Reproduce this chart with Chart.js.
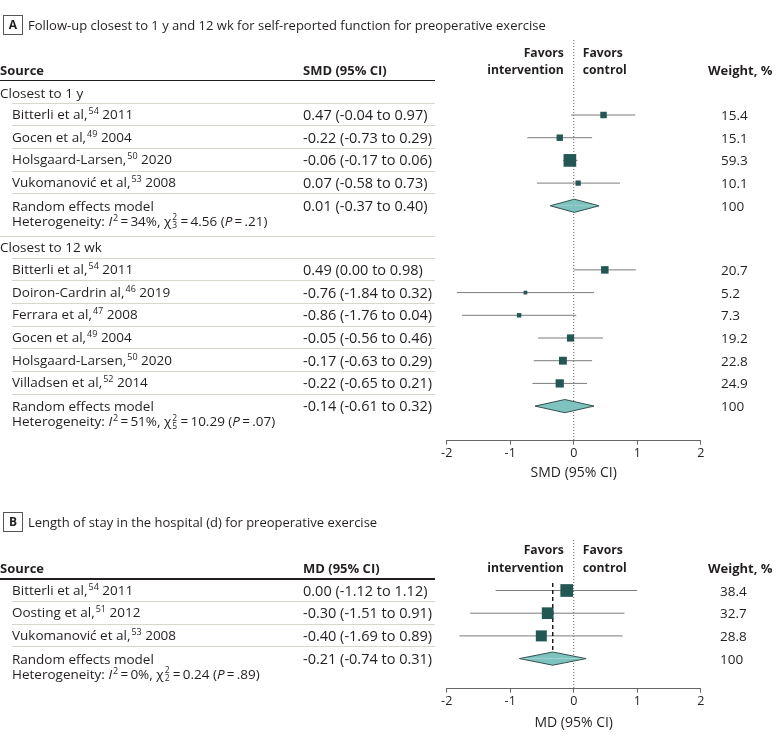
<!DOCTYPE html>
<html><head><meta charset="utf-8">
<script src="https://cdn.jsdelivr.net/npm/chart.js@4.4.1/dist/chart.umd.min.js"></script>
<style>
html,body{margin:0;padding:0;background:#fff;}
#wrap{position:relative;width:780px;height:740px;overflow:hidden;font-family:"Open Sans",sans-serif;color:#231f20;font-size:13.5px;}
canvas{position:absolute;left:0;}
.t{position:absolute;white-space:nowrap;line-height:16px;transform:translateY(-50%);}
.b{font-weight:700;font-size:13px;}
.f{font-weight:700;font-size:12.2px;}
.v{font-size:14.5px;}
.ttl{font-size:13px;}
.sup{font-size:9px;position:relative;top:-5px;margin-left:1px;}
.ss{display:inline-block;vertical-align:middle;font-size:8.5px;line-height:8px;margin:0 1px 0 1px;position:relative;top:-1px;}
.ss span{display:block;}
.hl{position:absolute;height:1px;}
.box{position:absolute;width:18px;height:18px;border:1px solid #555;font-weight:700;font-size:12px;line-height:18px;text-align:center;}
</style>
</head><body>
<div id="wrap">
<canvas id="cA"></canvas>
<canvas id="cB"></canvas>
</div>
<script>
// ================= DATA =================
// Panel A
const A_letter = "A";
const A_title = "Follow-up closest to 1 y and 12 wk for self-reported function for preoperative exercise";
const A_headers = ["Source", "SMD (95% CI)", "Weight, %"];
const A_axisTitle = "SMD (95% CI)";
const A_groups = ["Closest to 1 y", "Closest to 12 wk"];

const A1_sources = ["Bitterli et al,", "Gocen et al,", "Holsgaard-Larsen,", "Vukomanović et al,"];
const A1_refs = ["54", "49", "50", "53"];
const A1_years = ["2011", "2004", "2020", "2008"];
const A1_est = [0.47, -0.22, -0.06, 0.07];
const A1_lo = [-0.04, -0.73, -0.17, -0.58];
const A1_hi = [0.97, 0.29, 0.06, 0.73];
const A1_weight = [15.4, 15.1, 59.3, 10.1];
const A1_pooled = [0.01, -0.37, 0.40];
const A1_het = ["34%", "3", "4.56", ".21"];

const A2_sources = ["Bitterli et al,", "Doiron-Cardrin al,", "Ferrara et al,", "Gocen et al,", "Holsgaard-Larsen,", "Villadsen et al,"];
const A2_refs = ["54", "46", "47", "49", "50", "52"];
const A2_years = ["2011", "2019", "2008", "2004", "2020", "2014"];
const A2_est = [0.49, -0.76, -0.86, -0.05, -0.17, -0.22];
const A2_lo = [0.00, -1.84, -1.76, -0.56, -0.63, -0.65];
const A2_hi = [0.98, 0.32, 0.04, 0.46, 0.29, 0.21];
const A2_weight = [20.7, 5.2, 7.3, 19.2, 22.8, 24.9];
const A2_pooled = [-0.14, -0.61, 0.32];
const A2_het = ["51%", "5", "10.29", ".07"];

// Panel B
const B_letter = "B";
const B_title = "Length of stay in the hospital (d) for preoperative exercise";
const B_headers = ["Source", "MD (95% CI)", "Weight, %"];
const B_axisTitle = "MD (95% CI)";
const B_sources = ["Bitterli et al,", "Oosting et al,", "Vukomanović et al,"];
const B_refs = ["54", "51", "53"];
const B_years = ["2011", "2012", "2008"];
const B_est = [0.00, -0.30, -0.40];
const B_lo = [-1.12, -1.51, -1.69];
const B_hi = [1.12, 0.91, 0.89];
const B_weight = [38.4, 32.7, 28.8];
const B_pooled = [-0.21, -0.74, 0.31];
const B_het = ["0%", "2", "0.24", ".89"];
// where the marks sit in the figure (drawn slightly left of the printed values)
const B_markEst = [-0.11, -0.41, -0.51];
const B_markLo = [-1.23, -1.63, -1.80];
const B_markHi = [1.00, 0.80, 0.77];
const B_markPooled = [-0.33, -0.855, 0.195];

const xTicks = [-2, -1, 0, 1, 2];
const favorsLeft = ["Favors", "intervention"];
const favorsRight = ["Favors", "control"];

// ================= STYLE =================
const C_TEXT = "#231f20", C_SQ = "#235753", C_CI = "#7c7c7c", C_DIA = "#7fc3c1", C_DIAB = "#33524f";
const C_SEP = "#d9d6cc";
const FONT = '"Open Sans", sans-serif';
const COL_SRC = 0, COL_IND = 12, COL_VAL = 303, COL_W = 721, COL_WH = 708, RULE_END = 435;
const ZERO_PX = 573.3;

const wrap = document.getElementById('wrap');
function txt(x, y, html, cls, anchor) {
  const d = document.createElement('div');
  d.className = 't ' + (cls || '');
  d.innerHTML = html;
  d.style.left = x + 'px'; d.style.top = y + 'px';
  if (anchor === 'right') d.style.transform = 'translate(-100%,-50%)';
  wrap.appendChild(d);
}
function hline(x1, x2, y, color, h) {
  const d = document.createElement('div');
  d.className = 'hl';
  d.style.left = x1 + 'px'; d.style.width = (x2 - x1) + 'px';
  d.style.top = (y - (h || 1) / 2) + 'px'; d.style.height = (h || 1) + 'px';
  d.style.background = color;
  wrap.appendChild(d);
}
function box(letter, y) {
  const d = document.createElement('div');
  d.className = 'box'; d.textContent = letter;
  d.style.left = '3px'; d.style.top = (y - 10) + 'px';
  wrap.appendChild(d);
}
const fmt = v => v.toFixed(2);
const ci = (e, l, h) => `${fmt(e)} (${fmt(l)} to ${fmt(h)})`;
const src = (s, r, y) => `${s}<span class="sup">${r}</span> ${y}`;
const het = h => `Heterogeneity: <i>I</i><span class="sup">2</span>&thinsp;=&thinsp;${h[0]}, χ<span class="ss"><span>2</span><span>${h[1]}</span></span>&thinsp;=&thinsp;${h[2]} (<i>P</i>&thinsp;=&thinsp;${h[3]})`;

function header(letter, title, titleY, fav1Y, headY, ruleY, headers) {
  box(letter, titleY);
  txt(28, titleY, title, 'ttl');
  txt(ZERO_PX - 9.5, fav1Y, favorsLeft[0], 'f', 'right');
  txt(ZERO_PX - 9.5, headY, favorsLeft[1], 'f', 'right');
  txt(ZERO_PX + 9.5, fav1Y, favorsRight[0], 'f');
  txt(ZERO_PX + 9.5, headY, favorsRight[1], 'f');
  txt(COL_SRC, headY, headers[0], 'b');
  txt(COL_VAL, headY, headers[1], 'b');
  txt(COL_WH, headY, headers[2], 'b');
  hline(0, RULE_END, ruleY, C_TEXT, 1.5);
}

function newMarks() { return { sqX: [], sqY: [], sqR: [], ci: [], dia: [] }; }
function sqSide(w, maxW, maxSide) { return maxSide * Math.sqrt(w / maxW); }

const STEP = 22.7;
// ================= PANEL A TEXT + LAYOUT =================
header(A_letter, A_title, 25, 53, 70, 80.5, A_headers);
const mA = newMarks();
const A_data = [
  [A1_sources, A1_refs, A1_years, A1_est, A1_lo, A1_hi, A1_weight, A1_pooled, A1_het],
  [A2_sources, A2_refs, A2_years, A2_est, A2_lo, A2_hi, A2_weight, A2_pooled, A2_het]
];
const A_maxW = Math.max(...A1_weight, ...A2_weight);
let gy = 92.5;
A_data.forEach((g, gi) => {
  const [s, r, yr, e, lo, hi, w, p, h] = g;
  txt(COL_SRC, gy, A_groups[gi]);
  hline(COL_IND, RULE_END, gy + 11, C_SEP);
  const ry = gy + 22.5;
  s.forEach((_, i) => {
    const y = ry + i * STEP;
    txt(COL_IND, y, src(s[i], r[i], yr[i]));
    txt(COL_VAL, y, ci(e[i], lo[i], hi[i]), 'v');
    txt(COL_W, y, w[i].toFixed(1));
    hline(COL_IND, RULE_END, y + 10.8, C_SEP);
    mA.sqX.push(e[i]); mA.sqY.push(y); mA.sqR.push(sqSide(w[i], A_maxW, 12.7) / Math.SQRT2);
    mA.ci.push([lo[i], hi[i], y]);
  });
  const py = ry + s.length * STEP;
  txt(COL_IND, py, "Random effects model");
  txt(COL_VAL, py, ci(p[0], p[1], p[2]), 'v');
  txt(COL_W, py, "100");
  mA.dia.push([p[0], p[1], p[2], py]);
  const hy = py + 16.3;
  txt(COL_IND, hy, het(h));
  if (gi < A_data.length - 1) { hline(0, RULE_END, hy + 14.5, C_SEP); gy = hy + 25.3; }
});

// ================= PANEL B TEXT + LAYOUT =================
header(B_letter, B_title, 522, 550, 568, 579, B_headers);
const mB = newMarks();
const B_maxW = Math.max(...B_weight);
{
  const ry = 590.5;
  B_sources.forEach((_, i) => {
    const y = ry + i * STEP;
    txt(COL_IND, y, src(B_sources[i], B_refs[i], B_years[i]));
    txt(COL_VAL, y, ci(B_est[i], B_lo[i], B_hi[i]), 'v');
    txt(COL_W - 1, y, B_weight[i].toFixed(1));
    hline(COL_IND, RULE_END, y + 10.8, C_SEP);
    mB.sqX.push(B_markEst[i]); mB.sqY.push(y); mB.sqR.push(sqSide(B_weight[i], B_maxW, 12.7) / Math.SQRT2);
    mB.ci.push([B_markLo[i], B_markHi[i], y]);
  });
  const py = ry + B_sources.length * STEP;
  txt(COL_IND, py, "Random effects model");
  txt(COL_VAL, py, ci(B_pooled[0], B_pooled[1], B_pooled[2]), 'v');
  txt(COL_W - 1, py, "100");
  mB.dia.push([B_markPooled[0], B_markPooled[1], B_markPooled[2], py]);
  txt(COL_IND, py + 16.3, het(B_het));
  mB.dashed = [B_markPooled[0], 583, py - 6.6];
}

// ================= CHARTS =================
function makeChart(id, m, canvasTop, canvasH, plotTop, axisY, axisTitle) {
  const cv = document.getElementById(id);
  cv.style.top = canvasTop + 'px';
  cv.width = 780; cv.height = canvasH;
  cv.style.width = '780px'; cv.style.height = canvasH + 'px';
  const ds = [];
  ds.push({ type: 'scatter', data: m.sqX.map((x, i) => ({ x, y: m.sqY[i] })),
    pointStyle: 'rect', pointRadius: m.sqR, pointBackgroundColor: C_SQ, pointBorderWidth: 0, showLine: false, clip: false });
  const H = 6.6;
  m.dia.forEach(([e, lo, hi, y]) => {
    [-H, H].forEach(dh => ds.push({ type: 'line',
      data: [{ x: lo, y }, { x: e, y: y + dh }, { x: hi, y }],
      borderColor: C_DIAB, borderWidth: 1, backgroundColor: C_DIA, fill: { value: y },
      pointRadius: 0, tension: 0, clip: false }));
  });
  if (m.dashed) ds.push({ type: 'line', data: [{ x: m.dashed[0], y: m.dashed[1] }, { x: m.dashed[0], y: m.dashed[2] }],
    borderColor: '#111', borderWidth: 1.4, borderDash: [4, 3], pointRadius: 0, fill: false, clip: false });
  m.ci.forEach(([lo, hi, y]) => ds.push({ type: 'line', data: [{ x: lo, y }, { x: hi, y }],
    borderColor: C_CI, borderWidth: 1, pointRadius: 0, fill: false, clip: false }));
  ds.push({ type: 'line', data: [{ x: 0, y: plotTop }, { x: 0, y: axisY }],
    borderColor: '#666', borderWidth: 1, borderDash: [1, 2], pointRadius: 0, fill: false, clip: false });

  const axisH = canvasTop + canvasH - axisY;
  return new Chart(cv, {
    type: 'scatter',
    data: { datasets: ds },
    options: {
      responsive: false, animation: false, events: [],
      layout: { padding: { left: 446.7, right: 780 - 700.7, top: plotTop - canvasTop, bottom: 0 } },
      plugins: { legend: { display: false }, tooltip: { enabled: false } },
      scales: {
        x: { type: 'linear', min: xTicks[0], max: xTicks[xTicks.length - 1],
          afterBuildTicks: s => { s.ticks = xTicks.map(v => ({ value: v })); },
          afterFit: s => { s.height = axisH; },
          grid: { display: true, drawOnChartArea: false, drawTicks: true, tickLength: 4, color: '#666' },
          border: { display: true, color: '#666', width: 1 },
          ticks: { font: { family: FONT, size: 12.5 }, color: C_TEXT, padding: 1, maxRotation: 0 },
          title: { display: true, text: axisTitle, font: { family: FONT, size: 14 }, color: C_TEXT, padding: 0 } },
        y: { type: 'linear', display: false, reverse: true, min: plotTop, max: axisY }
      }
    }
  });
}
makeChart('cA', mA, 0, 481, 40, 440.7, A_axisTitle);
makeChart('cB', mB, 500, 231, 540, 688.7, B_axisTitle);
</script>
</body></html>
